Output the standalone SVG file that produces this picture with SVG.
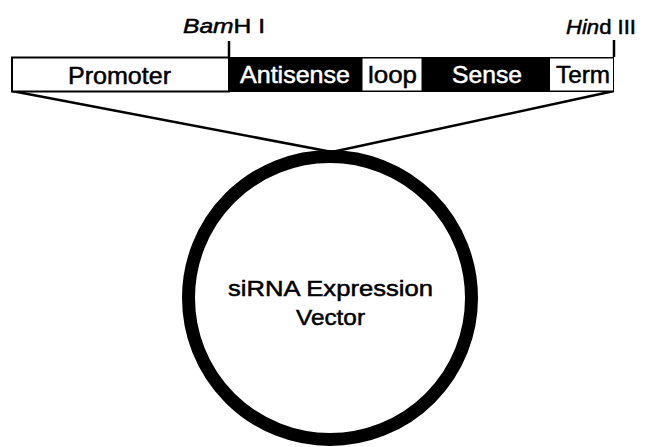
<svg xmlns="http://www.w3.org/2000/svg" width="649" height="447" viewBox="0 0 649 447">
<style>
text{font-family:"Liberation Sans",Arial,sans-serif;fill:#000;stroke:#000;stroke-width:0.5}
.lbl{font-size:24px}
.w{fill:#fff;stroke:#fff}
.line{stroke:#000;stroke-width:2.5;fill:none}
</style>
<rect width="649" height="447" fill="#fff"/>
<g id="connectors">
<line class="line" x1="12" y1="91" x2="332" y2="152"/>
<line class="line" x1="614" y1="91" x2="332" y2="152"/>
<line class="line" x1="229" y1="41" x2="229" y2="57"/>
<line class="line" x1="614" y1="40" x2="614" y2="57"/>
</g>
<g id="bar">
<rect x="229" y="57" width="385" height="35" fill="#000"/>
<g id="promoter">
<rect x="12" y="57.5" width="217" height="34" fill="#fff" stroke="#000" stroke-width="2"/>
<text class="lbl" x="68" y="84" textLength="103" lengthAdjust="spacingAndGlyphs">Promoter</text>
</g>
<g id="antisense">
<text class="lbl w" x="240" y="83" textLength="110" lengthAdjust="spacingAndGlyphs">Antisense</text>
</g>
<g id="loop">
<rect x="362.5" y="58.5" width="59" height="32" fill="#fff"/>
<text class="lbl" x="368" y="83" textLength="49" lengthAdjust="spacingAndGlyphs">loop</text>
</g>
<g id="sense">
<text class="lbl w" x="452" y="83" textLength="70" lengthAdjust="spacingAndGlyphs">Sense</text>
</g>
<g id="term">
<rect x="550" y="58.5" width="63" height="32" fill="#fff"/>
<text class="lbl" x="556" y="83" textLength="54" lengthAdjust="spacingAndGlyphs">Term</text>
</g>
</g>
<g id="bamhi">
<text x="183" y="33" font-size="20.5" textLength="82" lengthAdjust="spacingAndGlyphs"><tspan font-style="italic">Bam</tspan>H I</text>
</g>
<g id="hindiii">
<text x="566" y="34" font-size="20.5" textLength="70" lengthAdjust="spacingAndGlyphs"><tspan font-style="italic">Hin</tspan>d III</text>
</g>
<g id="vector">
<circle cx="330" cy="298" r="141.5" fill="none" stroke="#000" stroke-width="13"/>
<text x="228" y="296" font-size="22" textLength="205" lengthAdjust="spacingAndGlyphs">siRNA Expression</text>
<text x="296" y="325" font-size="22" textLength="69" lengthAdjust="spacingAndGlyphs">Vector</text>
</g>
</svg>
